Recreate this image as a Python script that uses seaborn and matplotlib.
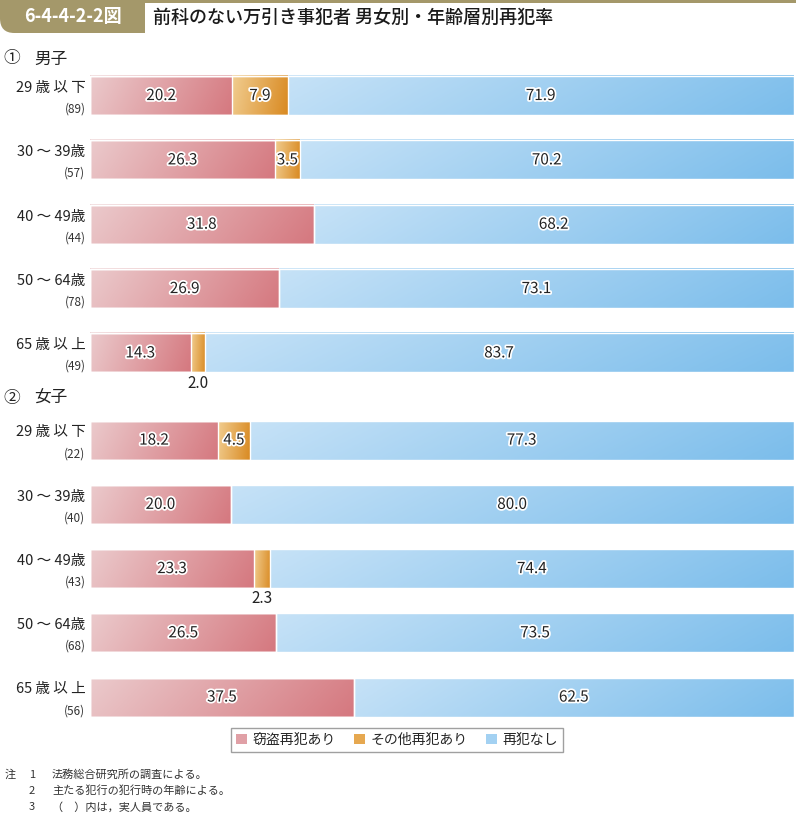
import numpy as np
import pandas as pd
import matplotlib.pyplot as plt
import matplotlib.patheffects as pe
from matplotlib.colors import LinearSegmentedColormap
from matplotlib.patches import Rectangle, FancyBboxPatch
import seaborn as sns

sns.set_theme(style="white")
plt.rcParams['font.family'] = ['Noto Sans CJK JP', 'DejaVu Sans']

# data
ages = ["29 歳 以 下", "30 ～ 39歳", "40 ～ 49歳", "50 ～ 64歳", "65 歳 以 上"]
male_n = [89, 57, 44, 78, 49]
male_theft = [20.2, 26.3, 31.8, 26.9, 14.3]
male_other = [7.9, 3.5, 0.0, 0.0, 2.0]
male_none = [71.9, 70.2, 68.2, 73.1, 83.7]
female_n = [22, 40, 43, 68, 56]
female_theft = [18.2, 20.0, 23.3, 26.5, 37.5]
female_other = [4.5, 0.0, 2.3, 0.0, 0.0]
female_none = [77.3, 80.0, 74.4, 73.5, 62.5]

series = ["窃盗再犯あり", "その他再犯あり", "再犯なし"]
grad = {
    "窃盗再犯あり": ("#ebcacc", "#d5787f"),
    "その他再犯あり": ("#f1cd90", "#d98a22"),
    "再犯なし": ("#c6e2f7", "#7bbdeb"),
}
solid = {"窃盗再犯あり": "#e0a0a6", "その他再犯あり": "#e6a850", "再犯なし": "#a3d1f2"}

W, H = 796, 815
fig = plt.figure(figsize=(W / 100, H / 100), dpi=100)


def px_axes(x0, y0, x1, y1):
    return fig.add_axes([x0 / W, 1 - y1 / H, (x1 - x0) / W, (y1 - y0) / H])


def gradient_fill(ax, x0, x1, yc, h, name, z):
    c0, c1 = grad[name]
    cmap = LinearSegmentedColormap.from_list(name, [c0, c1])
    xx = np.linspace(0, 1, 200)
    yy = np.linspace(0, 1, 20)
    g = 0.88 * xx[None, :] + 0.12 * yy[:, None]
    ax.imshow(g, cmap=cmap, vmin=0, vmax=1, aspect="auto", interpolation="bilinear",
              extent=[x0, x1, yc + h / 2, yc - h / 2], zorder=z)


def draw_group(ax, theft, other, none, counts):
    df = pd.DataFrame({"age": ages, "theft": theft, "other": other, "none": none})
    df["c1"] = df["theft"]
    df["c2"] = df["theft"] + df["other"]
    df["c3"] = df["c2"] + df["none"]
    bw = 0.607
    # overplotted stacked bars; faces get gradient fills below
    for col, name in [("c3", "再犯なし"), ("c2", "その他再犯あり"), ("c1", "窃盗再犯あり")]:
        sns.barplot(data=df, x=col, y="age", orient="h", color=solid[name], width=bw,
                    ax=ax, edgecolor="white", linewidth=1.0)
    for bar in ax.patches:
        bar.set_facecolor("none")
        bar.set_zorder(5)
    for i, r in df.iterrows():
        segs = [(0, r["c1"], "窃盗再犯あり"), (r["c1"], r["c2"], "その他再犯あり"),
                (r["c2"], r["c3"], "再犯なし")]
        for k, (a, b, name) in enumerate(segs):
            if b - a > 0:
                gradient_fill(ax, a, b, i, bw, name, 2 + k)
        labels = [(r["theft"], 0, r["c1"]), (r["other"], r["c1"], r["c2"]),
                  (r["none"], r["c2"], r["c3"])]
        for v, a, b in labels:
            if v <= 0:
                continue
            xm = (a + b) / 2
            if v >= 3:
                ax.text(xm, i, f"{v:.1f}", ha="center", va="center", fontsize=11,
                        color="#222222", zorder=10,
                        path_effects=[pe.withStroke(linewidth=2.5, foreground="white")])
            else:
                ax.text(xm, i + 0.47, f"{v:.1f}", ha="center", va="center",
                        fontsize=11, color="#222222", zorder=10)
        ax.text(-0.0065, i - 0.12, r["age"], transform=ax.get_yaxis_transform(),
                ha="right", va="center", fontsize=10.5, color="#222222")
        ax.text(-0.0065, i + 0.21, f"({counts[i]})", transform=ax.get_yaxis_transform(),
                ha="right", va="center", fontsize=8.5, color="#333333")
    ax.set_xlim(0, 100.05)
    ax.set_ylim(4.5, -0.5)
    ax.set_xlabel("")
    ax.set_ylabel("")
    ax.set_xticks([])
    ax.set_yticks([])
    sns.despine(ax=ax, left=True, bottom=True)


ax1 = px_axes(90, 63.4, 794, 385.1)
draw_group(ax1, male_theft, male_other, male_none, male_n)
ax2 = px_axes(90, 408, 794, 729.2)
draw_group(ax2, female_theft, female_other, female_none, female_n)

# header banner (rounded bottom-left corner)
olive = "#a4986a"
fig.patches.append(FancyBboxPatch((0, 1 - 33 / H), 145 / W, 40 / H,
                                  boxstyle="round,pad=0,rounding_size=0.018",
                                  transform=fig.transFigure, facecolor=olive,
                                  edgecolor="none"))
fig.patches.append(Rectangle((30 / W, 1 - 33 / H), 115 / W, 33 / H,
                             transform=fig.transFigure, facecolor=olive, edgecolor="none"))
fig.patches.append(Rectangle((0, 1 - 16 / H), 145 / W, 16 / H,
                             transform=fig.transFigure, facecolor=olive, edgecolor="none"))
fig.patches.append(Rectangle((145 / W, 1 - 3 / H), 1 - 145 / W, 3 / H,
                             transform=fig.transFigure, facecolor=olive, edgecolor="none"))
fig.text(73 / W, 1 - 17 / H, "6-4-4-2-2図", ha="center", va="center", fontsize=13,
         color="white", fontweight="bold")
fig.text(153 / W, 1 - 18 / H, "前科のない万引き事犯者 男女別・年齢層別再犯率",
         ha="left", va="center", fontsize=13, color="#1a1a1a", fontweight="medium")

fig.text(3 / W, 1 - 59 / H, "①", ha="left", va="center", fontsize=12, color="#222222")
fig.text(34 / W, 1 - 59 / H, "男子", ha="left", va="center", fontsize=12, color="#222222")
fig.text(3 / W, 1 - 398 / H, "②", ha="left", va="center", fontsize=12, color="#222222")
fig.text(34 / W, 1 - 398 / H, "女子", ha="left", va="center", fontsize=12, color="#222222")

# legend
handles = [Rectangle((0, 0), 1, 1, facecolor=solid[s], edgecolor="none") for s in series]
fig.legend(handles, series, loc="center", bbox_to_anchor=(397 / W, 1 - 740 / H), ncol=3,
           frameon=True, fancybox=False, edgecolor="#888888", fontsize=10,
           handlelength=0.8, handleheight=0.8, handletextpad=0.4, columnspacing=1.3,
           borderpad=0.35)

# notes
notes = [("注", "1", "法務総合研究所の調査による。"),
         ("", "2", "主たる犯行の犯行時の年齢による。"),
         ("", "3", "（　）内は，実人員である。")]
for k, (a, b, c) in enumerate(notes):
    y = 1 - (775 + 16 * k) / H
    fig.text(5 / W, y, a, ha="left", va="center", fontsize=8, color="#333333")
    fig.text(29 / W, y, b, ha="left", va="center", fontsize=8, color="#333333")
    fig.text(52 / W, y, c, ha="left", va="center", fontsize=8, color="#333333")

fig.savefig("out.png", dpi=100)
